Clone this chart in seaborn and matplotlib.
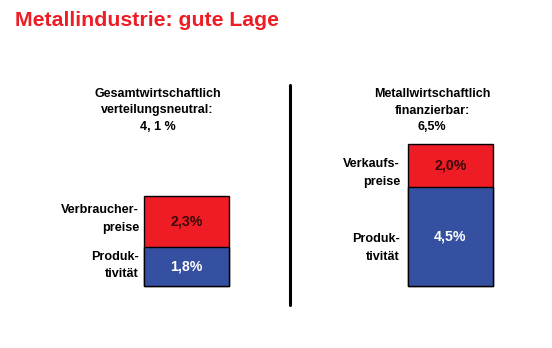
import matplotlib
matplotlib.use("Agg")
import matplotlib.pyplot as plt
import seaborn as sns
import pandas as pd
from matplotlib.lines import Line2D

# ---- data ----
bereiche = ["Gesamtwirtschaftlich", "Metallwirtschaftlich"]
produktivitaet = [1.8, 4.5]
preise = [2.3, 2.0]
wert_labels_preise = ["2,3%", "2,0%"]
wert_labels_prod = ["1,8%", "4,5%"]
kopf_texte = [["Gesamtwirtschaftlich", "verteilungsneutral:", "4, 1 %"],
              ["Metallwirtschaftlich", "finanzierbar:", "6,5%"]]
preis_labels = [["Verbraucher-", "preise"], ["Verkaufs-", "preise"]]
prod_labels = ["Produk-", "tivität"]
titel = "Metallindustrie: gute Lage"

RED = "#ee1c24"
BLUE = "#3550a0"

sns.set_theme(style="white")
plt.rcParams["font.family"] = ["Liberation Sans", "DejaVu Sans"]

W, H = 552, 348
fig = plt.figure(figsize=(W / 100, H / 100), dpi=100)
ax = fig.add_axes([0, 0, 1, 1])

df = pd.DataFrame({"Bereich": bereiche,
                   "Produktivität": produktivitaet,
                   "Preise": preise})
df["Gesamt"] = df["Produktivität"] + df["Preise"]

bw = 0.32
sns.barplot(data=df, x="Bereich", y="Gesamt", color=RED, saturation=1,
            width=bw, edgecolor="black", linewidth=1.0, ax=ax)
sns.barplot(data=df, x="Bereich", y="Produktivität", color=BLUE, saturation=1,
            width=bw, edgecolor="black", linewidth=1.0, ax=ax)

# map data to pixels: x=0 -> 186.5px, x=1 -> 450.5px ; y=0 -> 286px from top, 21.9 px per %
pxu = 264.0
pyu = 21.9
ax.set_xlim(-186.5 / pxu, (W - 186.5) / pxu)
ax.set_ylim(-(H - 286) / pyu, 286 / pyu)
ax.axis("off")


def fx(px):
    return px / W


def fy(py):
    return 1 - py / H


# title
fig.text(fx(15), fy(20), titel, color=RED, fontsize=15.3, fontweight="bold",
         ha="left", va="center")

# headers
kopf_x = [157.5, 432]
kopf_y = [94, 110.5, 127]
for xpos, lines in zip(kopf_x, kopf_texte):
    for yy, t in zip(kopf_y, lines):
        fig.text(fx(xpos), fy(yy), t, fontsize=9, fontweight="bold",
                 ha="center", va="center", color="black")

# value labels in segments
for i in range(len(bereiche)):
    p = df["Produktivität"][i]
    r = df["Preise"][i]
    ax.text(i, p / 2, wert_labels_prod[i], ha="center", va="center",
            color="white", fontsize=10.2, fontweight="bold")
    ax.text(i, p + r / 2, wert_labels_preise[i], ha="center", va="center",
            color="#3a0808", fontsize=10.2, fontweight="bold")

# side labels
side_x = [139, 400]
preis_y = [[210, 228], [164, 182]]
prod_y = [[257, 274], [239, 257]]
for k in range(2):
    for yy, t in zip(preis_y[k], preis_labels[k]):
        fig.text(fx(side_x[k]), fy(yy), t, fontsize=9.1, fontweight="bold",
                 ha="right", va="center", color="black")
    for yy, t in zip(prod_y[k], prod_labels):
        fig.text(fx(side_x[k]), fy(yy), t, fontsize=9.1, fontweight="bold",
                 ha="right", va="center", color="black")

# divider
fig.add_artist(Line2D([fx(290), fx(290)], [fy(85), fy(305)],
                      color="black", linewidth=2.2, transform=fig.transFigure))

fig.savefig("out.png", dpi=100)
